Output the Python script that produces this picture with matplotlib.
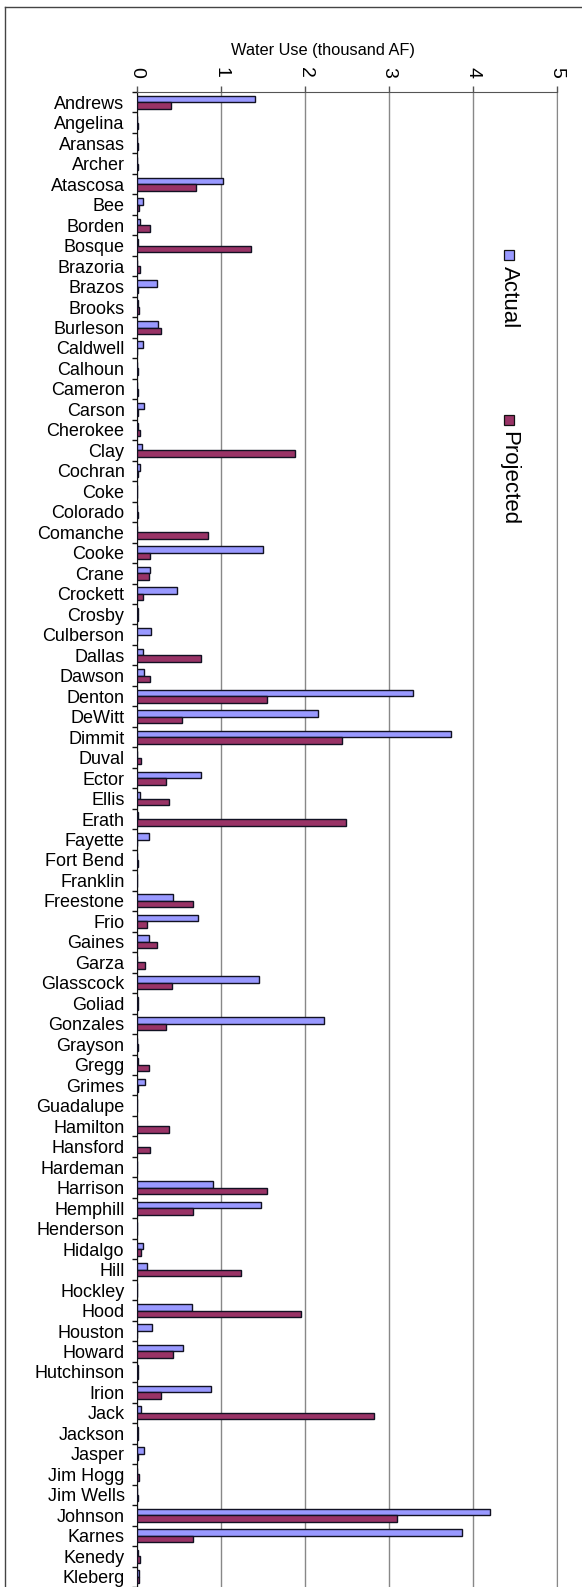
import matplotlib.pyplot as plt
import numpy as np
from matplotlib.lines import Line2D
from matplotlib.patches import Rectangle

plt.rcParams['font.family'] = ['Liberation Sans', 'DejaVu Sans']

counties = [
    "Andrews", "Angelina", "Aransas", "Archer", "Atascosa", "Bee", "Borden",
    "Bosque", "Brazoria", "Brazos", "Brooks", "Burleson", "Caldwell", "Calhoun",
    "Cameron", "Carson", "Cherokee", "Clay", "Cochran", "Coke", "Colorado",
    "Comanche", "Cooke", "Crane", "Crockett", "Crosby", "Culberson", "Dallas",
    "Dawson", "Denton", "DeWitt", "Dimmit", "Duval", "Ector", "Ellis", "Erath",
    "Fayette", "Fort Bend", "Franklin", "Freestone", "Frio", "Gaines", "Garza",
    "Glasscock", "Goliad", "Gonzales", "Grayson", "Gregg", "Grimes",
    "Guadalupe", "Hamilton", "Hansford", "Hardeman", "Harrison", "Hemphill",
    "Henderson", "Hidalgo", "Hill", "Hockley", "Hood", "Houston", "Howard",
    "Hutchinson", "Irion", "Jack", "Jackson", "Jasper", "Jim Hogg",
    "Jim Wells", "Johnson", "Karnes", "Kenedy", "Kleberg",
]

actual = [
    1.40, 0.005, 0.005, 0.005, 1.02, 0.07, 0.03,
    0.01, 0.005, 0.24, 0.01, 0.25, 0.07, 0.005,
    0.005, 0.085, 0.01, 0.055, 0.03, 0.005, 0.005,
    0.005, 1.50, 0.15, 0.48, 0.01, 0.17, 0.07,
    0.085, 3.28, 2.16, 3.74, 0.005, 0.76, 0.03, 0.01,
    0.14, 0.005, 0.005, 0.43, 0.73, 0.14, 0.005,
    1.45, 0.01, 2.23, 0.005, 0.01, 0.10,
    0.005, 0.005, 0.005, 0.005, 0.90, 1.48,
    0.005, 0.07, 0.12, 0.005, 0.65, 0.18, 0.55,
    0.01, 0.88, 0.045, 0.01, 0.08, 0.005,
    0.005, 4.20, 3.87, 0.01, 0.02,
]

projected = [
    0.41, 0.01, 0.01, 0.01, 0.70, 0.02, 0.15,
    1.36, 0.04, 0.01, 0.02, 0.29, 0.005, 0.015,
    0.015, 0.01, 0.04, 1.88, 0.01, 0.005, 0.015,
    0.85, 0.15, 0.14, 0.07, 0.01, 0.005, 0.76,
    0.15, 1.55, 0.54, 2.44, 0.05, 0.35, 0.38, 2.49,
    0.005, 0.01, 0.005, 0.67, 0.12, 0.24, 0.09,
    0.42, 0.01, 0.35, 0.015, 0.14, 0.01,
    0.005, 0.38, 0.15, 0.005, 1.55, 0.67,
    0.005, 0.045, 1.24, 0.005, 1.95, 0.005, 0.43,
    0.01, 0.29, 2.82, 0.01, 0.01, 0.02,
    0.015, 3.10, 0.67, 0.03, 0.02,
]

series_names = ["Actual", "Projected"]
series_colors = ["#9999FF", "#993366"]

W, H = 582, 1587
fig = plt.figure(figsize=(W / 100, H / 100), dpi=100)

# plot area (pixel placement)
left, right, top, bottom = 137, 557, 92, 1587
ax = fig.add_axes([left / W, 1 - bottom / H, (right - left) / W, (bottom - top) / H])

y = np.arange(len(counties))
bar_h = 0.32
ax.barh(y - bar_h / 2, actual, height=bar_h, color=series_colors[0],
        edgecolor="#111122", linewidth=1.0, zorder=3)
ax.barh(y + bar_h / 2, projected, height=bar_h, color=series_colors[1],
        edgecolor="#111122", linewidth=1.0, zorder=3)

ax.set_xlim(0, 5)
ax.set_ylim(len(counties) - 0.5, -0.5)

ax.xaxis.tick_top()
ax.set_xticks(range(6))
ax.tick_params(axis="x", direction="out", length=4, width=1, color="#555555",
               pad=6, labelsize=14, labelrotation=-90)
ax.grid(axis="x", color="#888888", linewidth=1, zorder=0)

ax.set_yticks(y)
ax.set_yticklabels(counties)
ax.set_yticks(np.arange(len(counties) + 1) - 0.5, minor=True)
ax.tick_params(axis="y", which="major", length=0, pad=9, labelsize=13)
ax.tick_params(axis="y", which="minor", direction="out", length=3.5, width=1,
               color="#111111")

ax.spines["bottom"].set_visible(False)
ax.spines["right"].set_color("#888888")
ax.spines["top"].set_color("#555555")
ax.spines["left"].set_color("#111111")

fig.text(323 / W, 1 - 50 / H, "Water Use (thousand AF)", ha="center",
         va="center", fontsize=11.8)

# legend, rotated like the reference
legend_y = [255, 420]
for name, color, ly in zip(series_names, series_colors, legend_y):
    sq = 10
    lx = 509
    fig.add_artist(Rectangle(((lx - sq / 2) / W, 1 - (ly + sq / 2) / H), sq / W, sq / H,
                             facecolor=color, edgecolor="#111111", linewidth=0.9,
                             transform=fig.transFigure))
    fig.text(lx / W, 1 - (ly + 11) / H, name, rotation=-90, ha="center",
             va="top", fontsize=16)

# chart frame
fig.add_artist(Line2D([5 / W, 5 / W], [0, 1 - 7 / H], color="#444444",
                      linewidth=1, transform=fig.transFigure))
fig.add_artist(Line2D([5 / W, 1], [1 - 7 / H, 1 - 7 / H], color="#444444",
                      linewidth=1, transform=fig.transFigure))

fig.savefig("out.png", dpi=100)
